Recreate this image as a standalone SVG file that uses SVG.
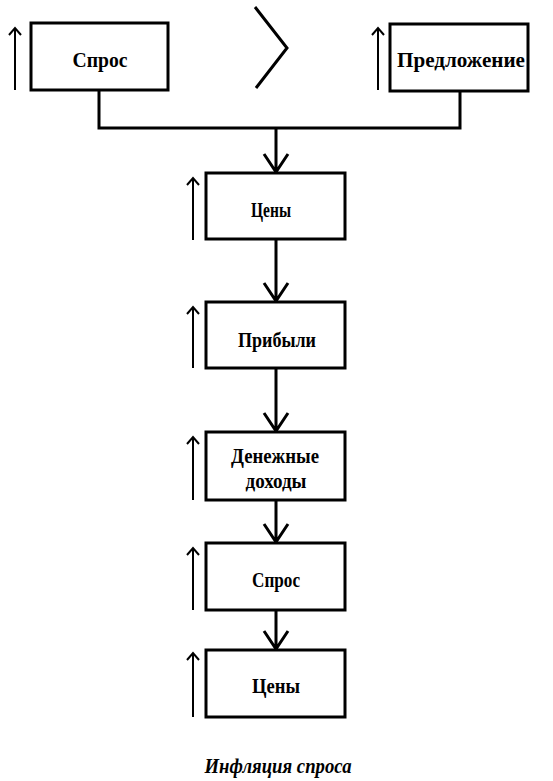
<svg xmlns="http://www.w3.org/2000/svg" width="553" height="781" viewBox="0 0 553 781">
<style>
.box{fill:#fff;stroke:#000;stroke-width:3}
.t{font-family:"Liberation Serif",serif;font-weight:bold;font-size:20px;fill:#000;text-anchor:middle}
.con{fill:none;stroke:#000;stroke-width:3}
.up{fill:none;stroke:#000;stroke-width:2}
.cap{font-family:"Liberation Serif",serif;font-weight:bold;font-style:italic;font-size:20px;fill:#000;text-anchor:middle}
</style>
<rect width="553" height="781" fill="#fff"/>
<g id="connectors">
<path class="con" d="M99,90 V128 H460 V91"/>
<path class="con" d="M276,128 V172 M264,154 L276,172 L288,154"/>
<path class="con" d="M276,239 V301 M264,283 L276,301 L288,283"/>
<path class="con" d="M276,368 V431 M264,413 L276,431 L288,413"/>
<path class="con" d="M276,500 V542 M264,524 L276,542 L288,524"/>
<path class="con" d="M276,610 V649 M264,631 L276,649 L288,631"/>
</g>
<g id="chevron"><path class="con" d="M255,7 L287,48 L256,88"/></g>
<g id="node-spros-top">
<rect class="box" x="31" y="23" width="137" height="67"/>
<text class="t" x="100" y="67" textLength="55" lengthAdjust="spacingAndGlyphs">Спрос</text>
<path class="up" d="M15,90 V28 M9,35 L15,28 L21,35"/>
</g>
<g id="node-predlozhenie">
<rect class="box" x="390" y="24" width="138" height="67"/>
<text class="t" x="461" y="67" textLength="128" lengthAdjust="spacingAndGlyphs">Предложение</text>
<path class="up" d="M378,90 V28 M372,35 L378,28 L384,35"/>
</g>
<g id="node-ceny1">
<rect class="box" x="206" y="173" width="139" height="66"/>
<text class="t" x="271" y="217" textLength="40" lengthAdjust="spacingAndGlyphs">Цены</text>
<path class="up" d="M193,240 V178 M187,185 L193,178 L199,185"/>
</g>
<g id="node-pribyli">
<rect class="box" x="206" y="302" width="139" height="66"/>
<text class="t" x="277" y="347" textLength="78" lengthAdjust="spacingAndGlyphs">Прибыли</text>
<path class="up" d="M193,368 V307 M187,314 L193,307 L199,314"/>
</g>
<g id="node-dohody">
<rect class="box" x="206" y="432" width="139" height="68"/>
<text class="t" x="275" y="463" textLength="88" lengthAdjust="spacingAndGlyphs">Денежные</text>
<text class="t" x="276" y="488" textLength="61" lengthAdjust="spacingAndGlyphs">доходы</text>
<path class="up" d="M193,500 V437 M187,444 L193,437 L199,444"/>
</g>
<g id="node-spros2">
<rect class="box" x="206" y="543" width="139" height="67"/>
<text class="t" x="276" y="587" textLength="48" lengthAdjust="spacingAndGlyphs">Спрос</text>
<path class="up" d="M193,610 V548 M187,555 L193,548 L199,555"/>
</g>
<g id="node-ceny2">
<rect class="box" x="206" y="650" width="139" height="67"/>
<text class="t" x="276" y="693" textLength="48" lengthAdjust="spacingAndGlyphs">Цены</text>
<path class="up" d="M193,717 V653 M187,660 L193,653 L199,660"/>
</g>
<g id="caption">
<text class="cap" x="278" y="773" textLength="147" lengthAdjust="spacingAndGlyphs">Инфляция спроса</text>
</g>
</svg>
